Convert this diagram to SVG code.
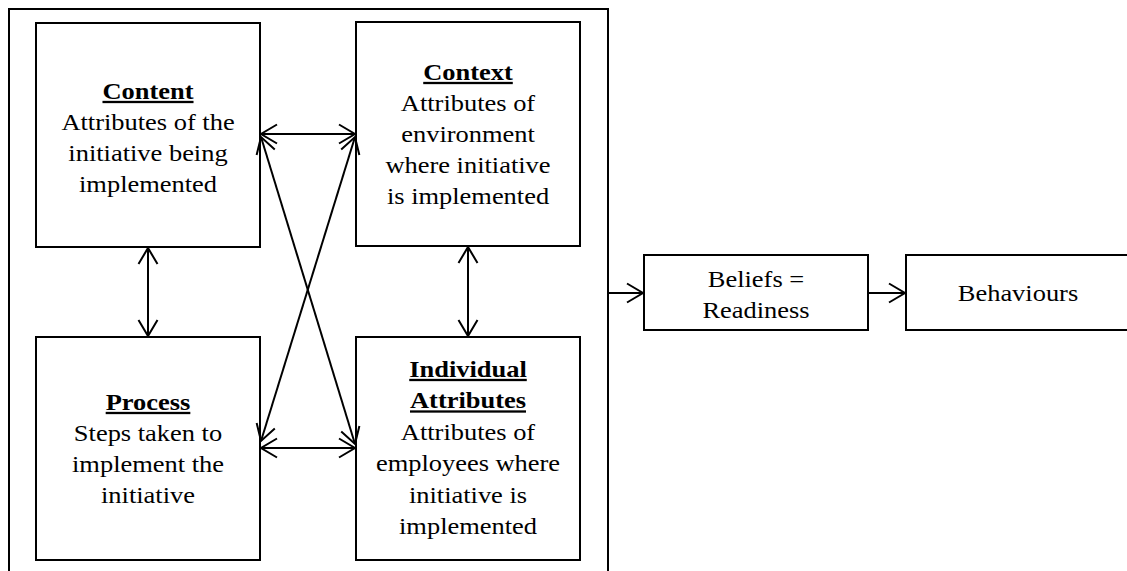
<svg xmlns="http://www.w3.org/2000/svg" width="1127" height="571" viewBox="0 0 1127 571">
  <style>
    .box { fill: #ffffff; stroke: #000000; stroke-width: 2; }
    .frame { fill: none; stroke: #000000; stroke-width: 2; }
    .link { fill: none; stroke: #000000; stroke-width: 2; }
    text { font-family: "Liberation Serif", "Times New Roman", serif; font-size: 23px; fill: #000000; text-anchor: middle; }
    .title { font-weight: bold; text-decoration: underline; }
  </style>
  <defs>
    <marker id="head" markerUnits="userSpaceOnUse" markerWidth="40" markerHeight="40" viewBox="-20 -20 40 40" refX="0" refY="0" orient="auto-start-reverse">
      <path d="M-16,-9.5 L0,0 L-16,9.5" fill="none" stroke="#000000" stroke-width="2" stroke-linejoin="miter"/>
    </marker>
  </defs>
  <rect width="1127" height="571" fill="#ffffff"/>

  <!-- enclosing frame for the four readiness factors -->
  <path class="frame" d="M9,575 V9 H608 V575"/>

  <g id="content">
    <rect class="box" x="36" y="23" width="224" height="224"/>
    <g transform="translate(148,0) scale(1.15,1)">
      <text class="title" x="0" y="99">Content</text>
      <text x="0" y="130">Attributes of the</text>
      <text x="0" y="161">initiative being</text>
      <text x="0" y="192">implemented</text>
    </g>
  </g>

  <g id="context">
    <rect class="box" x="356" y="22" width="224" height="224"/>
    <g transform="translate(468,0) scale(1.15,1)">
      <text class="title" x="0" y="80">Context</text>
      <text x="0" y="111">Attributes of</text>
      <text x="0" y="142">environment</text>
      <text x="0" y="173">where initiative</text>
      <text x="0" y="204">is implemented</text>
    </g>
  </g>

  <g id="process">
    <rect class="box" x="36" y="337" width="224" height="223"/>
    <g transform="translate(148,0) scale(1.15,1)">
      <text class="title" x="0" y="410">Process</text>
      <text x="0" y="441">Steps taken to</text>
      <text x="0" y="472">implement the</text>
      <text x="0" y="503">initiative</text>
    </g>
  </g>

  <g id="individual">
    <rect class="box" x="356" y="337" width="224" height="223"/>
    <g transform="translate(468,0) scale(1.15,1)">
      <text class="title" x="0" y="377">Individual</text>
      <text class="title" x="0" y="408.5">Attributes</text>
      <text x="0" y="440">Attributes of</text>
      <text x="0" y="471.5">employees where</text>
      <text x="0" y="503">initiative is</text>
      <text x="0" y="534.5">implemented</text>
    </g>
  </g>

  <g id="beliefs">
    <rect class="box" x="644" y="255" width="224" height="75"/>
    <g transform="translate(756,0) scale(1.15,1)">
      <text x="0" y="287">Beliefs =</text>
      <text x="0" y="318">Readiness</text>
    </g>
  </g>

  <g id="behaviours">
    <rect class="box" x="906" y="255" width="226" height="75"/>
    <g transform="translate(1018,0) scale(1.15,1)">
      <text x="0" y="301">Behaviours</text>
    </g>
  </g>

  <g id="connectors">
    <line class="link" x1="261" y1="134" x2="355" y2="134" marker-start="url(#head)" marker-end="url(#head)"/>
    <line class="link" x1="148" y1="248" x2="148" y2="336" marker-start="url(#head)" marker-end="url(#head)"/>
    <line class="link" x1="468" y1="247" x2="468" y2="336" marker-start="url(#head)" marker-end="url(#head)"/>
    <line class="link" x1="261" y1="448" x2="355" y2="448" marker-start="url(#head)" marker-end="url(#head)"/>
    <line class="link" x1="261" y1="137" x2="355" y2="444" marker-start="url(#head)" marker-end="url(#head)"/>
    <line class="link" x1="355" y1="137" x2="261" y2="441" marker-start="url(#head)" marker-end="url(#head)"/>
    <line class="link" x1="608" y1="293" x2="643" y2="293" marker-end="url(#head)"/>
    <line class="link" x1="868" y1="293" x2="905" y2="293" marker-end="url(#head)"/>
  </g>
</svg>
